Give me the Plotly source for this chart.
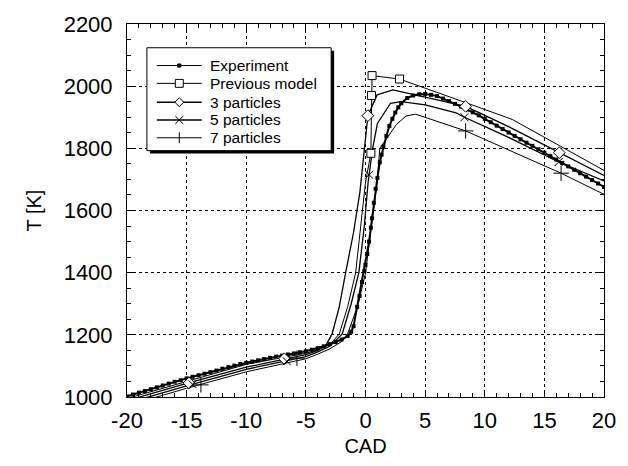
import plotly.graph_objects as go

# ---------------- data ----------------
cad_exp = [-20, -19.5, -19, -18.5, -18, -17.5, -17, -16.5, -16, -15.5, -15, -14.5, -14, -13.5,
           -13, -12.5, -12, -11.5, -11, -10.5, -10, -9.5, -9, -8.5, -8, -7.5, -7, -6.5, -6,
           -5.5, -5, -4.5, -4, -3.5, -3, -2.5, -2, -1.5, -1.2, -1.0, -0.7, -0.5, -0.3, -0.1,
           0, 0.15, 0.3, 0.45, 0.55, 0.7, 0.85, 1.0, 1.2, 1.35, 1.5, 1.75, 2.0, 2.25, 2.5,
           2.75, 3, 3.5, 4, 4.5, 5, 5.5, 6, 6.5, 7, 7.5, 8, 8.5, 9, 9.5, 10, 10.5, 11, 11.5,
           12, 12.5, 13, 13.5, 14, 14.5, 15, 15.5, 16, 16.5, 17, 17.5, 18, 18.5, 19, 19.5, 20]
T_exp = [1002, 1008, 1014, 1019, 1025, 1031, 1037, 1043, 1049, 1054, 1060, 1065, 1070, 1075,
         1080, 1085, 1091, 1096, 1101, 1106, 1110, 1114, 1118, 1122, 1126, 1130, 1133, 1137, 1140,
         1144, 1147, 1152, 1157, 1163, 1170, 1177, 1185, 1196, 1210, 1228, 1290, 1325, 1370, 1405,
         1425, 1460, 1500, 1545, 1575, 1625, 1670, 1705, 1755, 1780, 1805, 1840, 1872, 1895, 1915,
         1932, 1945, 1962, 1970, 1974, 1975, 1972, 1968, 1960, 1952, 1943, 1934, 1925, 1916, 1906,
         1895, 1884, 1873, 1862, 1851, 1840, 1829, 1818, 1808, 1797, 1786, 1775, 1764, 1753, 1742,
         1731, 1720, 1709, 1698, 1687, 1676]

cad_prev = [-20, -15, -10, -5, -4, -3, -2.2, -1.5, -0.83, -0.4, 0, 0.45, 0.5, 0.55, 2.85, 6, 9.5, 12.3, 16.25, 20]
T_prev = [995, 1051, 1105, 1141, 1152, 1168, 1203, 1290, 1399, 1550, 1691, 1784, 1970, 2034, 2023, 1981, 1932, 1893, 1809, 1729]
mk_cad_prev = [0.45, 0.5, 0.55, 2.85]
mk_T_prev = [1784, 1970, 2034, 2023]

cad_3p = [-20, -15, -10, -5, -4, -3.3, -2.8, -2.2, -1.67, -1.0, -0.47, 0.2, 0.97, 2.3, 5, 8.4, 12, 16.25, 20]
T_3p = [988, 1044, 1096, 1136, 1150, 1168, 1203, 1290, 1399, 1530, 1659, 1905, 1972, 1988, 1965, 1935, 1870, 1786, 1713]
mk_cad_3p = [-14.8, -6.8, 0.2, 8.4, 16.25]
mk_T_3p = [1045, 1123, 1905, 1935, 1786]

cad_5p = [-20, -15, -10, -5, -4, -3, -1.95, -1.2, -0.56, -0.1, 0.22, 0.6, 1.0, 2.1, 3, 5, 7.6, 8.3, 12, 16.2, 20]
T_5p = [980, 1036, 1089, 1130, 1145, 1163, 1203, 1300, 1399, 1550, 1691, 1800, 1880, 1945, 1950, 1940, 1914, 1900, 1835, 1756, 1695]
mk_cad_5p = [-14.5, -6.6, 0.3, 8.3, 16.2]
mk_T_5p = [1041, 1115, 1715, 1900, 1756]

cad_7p = [-20, -15, -10, -5, -4, -3, -2, -1.5, -0.6, 0, 0.5, 0.97, 1.2, 2.6, 3.4, 4.2, 8.4, 12, 16.4, 20]
T_7p = [972, 1028, 1081, 1123, 1138, 1155, 1178, 1203, 1300, 1399, 1550, 1691, 1800, 1877, 1904, 1910, 1856, 1795, 1720, 1652]
mk_cad_7p = [-13.8, -5.75, 8.4, 16.4]
mk_T_7p = [1039, 1125, 1856, 1720]

names = ["Experiment", "Previous model", "3 particles", "5 particles", "7 particles"]
x_ticks = [-20, -15, -10, -5, 0, 5, 10, 15, 20]
y_ticks = [1000, 1200, 1400, 1600, 1800, 2000, 2200]

FONT = "Liberation Sans, Arial, Helvetica, sans-serif"
K = "black"

# name, x, y, marker x, marker y, symbol, size, line width
models = [
    (names[1], cad_prev, T_prev, mk_cad_prev, mk_T_prev, "square", 8, 1.0),
    (names[2], cad_3p, T_3p, mk_cad_3p, mk_T_3p, "diamond", 9, 1.3),
    (names[3], cad_5p, T_5p, mk_cad_5p, mk_T_5p, "x-thin", 8, 1.3),
    (names[4], cad_7p, T_7p, mk_cad_7p, mk_T_7p, "cross-thin", 11, 1.0),
]

fig = go.Figure()

for name, cx, ty, mx, my, sym, sz, lw in models:
    fig.add_trace(go.Scatter(x=cx, y=ty, mode="lines", name=name, line=dict(color=K, width=lw),
                             showlegend=False))

fig.add_trace(go.Scatter(x=cad_exp, y=T_exp, mode="lines+markers", name=names[0], showlegend=False,
                         line=dict(color=K, width=2),
                         marker=dict(symbol="square", size=4, color=K, line=dict(width=0))))

for name, cx, ty, mx, my, sym, sz, lw in models:
    if sym in ("x-thin", "cross-thin"):
        mk = dict(symbol=sym, size=sz, color=K, line=dict(color=K, width=1))
    else:
        mk = dict(symbol=sym, size=sz, color="white", line=dict(color=K, width=1))
    fig.add_trace(go.Scatter(x=mx, y=my, mode="markers", name=name, marker=mk, showlegend=False))

# ---------------- layout ----------------
W, H = 628, 466
L, R, T, B = 127, 22, 20, 69
pw, ph = W - L - R, H - T - B


def px(x):
    return (x - L) / pw


def py(y):
    return 1 - (y - T) / ph


shapes = []
# legend box with drop shadow
shapes.append(dict(type="rect", xref="paper", yref="paper", x0=px(150), x1=px(335), y0=py(151), y1=py(47),
                   fillcolor=K, line=dict(width=0), layer="above"))
shapes.append(dict(type="rect", xref="paper", yref="paper", x0=px(147), x1=px(332), y0=py(148), y1=py(44),
                   fillcolor="white", line=dict(color=K, width=1), layer="above"))

annotations = []
rows = [62, 80, 99, 117, 135]
widths = [1.0, 1.0, 1.5, 1.5, 1.0]
mx0 = 179.5
for i, (nm, yy) in enumerate(zip(names, rows)):
    shapes.append(dict(type="line", xref="paper", yref="paper", x0=px(157), x1=px(202), y0=py(yy), y1=py(yy),
                       line=dict(color=K, width=widths[i]), layer="above"))
    annotations.append(dict(text=nm, xref="paper", yref="paper", x=px(208), y=py(yy),
                            xanchor="left", yanchor="middle", showarrow=False,
                            font=dict(family=FONT, size=15.5, color=K)))

def rect_px(cx, cy, h, fill):
    return dict(type="rect", xref="paper", yref="paper", x0=px(cx - h), x1=px(cx + h),
                y0=py(cy + h), y1=py(cy - h), fillcolor=fill, line=dict(color=K, width=1), layer="above")

shapes.append(rect_px(mx0, rows[0], 1.6, K))
shapes.append(rect_px(mx0, rows[1], 4, "white"))
d = 4.5
cy = rows[2]
shapes.append(dict(type="path", xref="paper", yref="paper",
                   path=f"M{px(mx0 - d)},{py(cy)} L{px(mx0)},{py(cy - d)} L{px(mx0 + d)},{py(cy)} L{px(mx0)},{py(cy + d)} Z",
                   fillcolor="white", line=dict(color=K, width=1), layer="above"))
d = 4
cy = rows[3]
shapes.append(dict(type="path", xref="paper", yref="paper",
                   path=f"M{px(mx0 - d)},{py(cy - d)} L{px(mx0 + d)},{py(cy + d)} M{px(mx0 - d)},{py(cy + d)} L{px(mx0 + d)},{py(cy - d)}",
                   line=dict(color=K, width=1), layer="above"))
d = 5.5
cy = rows[4]
shapes.append(dict(type="path", xref="paper", yref="paper",
                   path=f"M{px(mx0)},{py(cy - d)} L{px(mx0)},{py(cy + d)}",
                   line=dict(color=K, width=1), layer="above"))

axis_common = dict(
    ticks="inside", ticklen=7, tickcolor=K, tickwidth=1,
    showline=True, linecolor=K, linewidth=1, mirror="ticks",
    showgrid=True, gridcolor=K, griddash="dot", gridwidth=1,
    zeroline=False, tickfont=dict(family=FONT, size=22, color=K),
)

fig.update_layout(
    width=W, height=H,
    margin=dict(l=L, r=R, t=T, b=B),
    paper_bgcolor="white", plot_bgcolor="white",
    font=dict(family=FONT, color=K),
    showlegend=False,
    xaxis=dict(range=[-20, 20], tickvals=x_ticks, ticktext=[str(v) for v in x_ticks],
               minor=dict(dtick=1, tick0=0, ticks="inside", ticklen=4, tickcolor=K, showgrid=False),
               title=dict(text="CAD", font=dict(size=20, family=FONT, color=K), standoff=6),
               ticklabelstandoff=4, **axis_common),
    yaxis=dict(range=[1000, 2200], tickvals=y_ticks, ticktext=[str(v) for v in y_ticks],
               minor=dict(dtick=50, tick0=1000, ticks="inside", ticklen=4, tickcolor=K, showgrid=False),
               title=dict(text="T [K]", font=dict(size=20, family=FONT, color=K), standoff=16),
               ticklabelstandoff=9, **axis_common),
    shapes=shapes,
    annotations=annotations,
)

fig.write_html("out.html", config={"displayModeBar": False},
               post_script="document.body.style.margin='0';document.body.style.overflow='hidden';")
